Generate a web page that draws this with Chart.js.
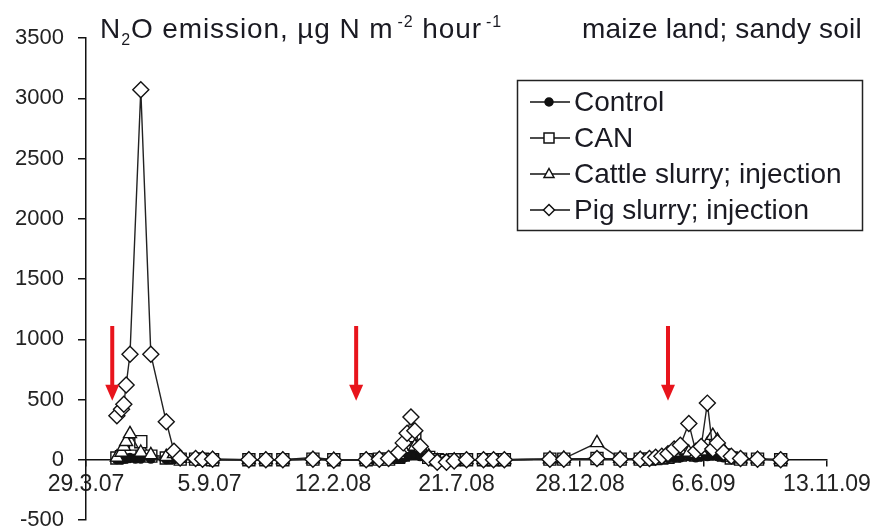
<!DOCTYPE html>
<html>
<head>
<meta charset="utf-8">
<script src="https://cdn.jsdelivr.net/npm/chart.js@4.4.0/dist/chart.umd.min.js"></script>
<style>
  html, body { margin: 0; padding: 0; background: #fff; }
  #wrap { position: relative; width: 874px; height: 530px; }
  .title { position: absolute; font-family: "Liberation Sans", Arial, sans-serif; font-size: 28px; line-height: 1; color: #1a1a22; white-space: nowrap; }
  .title .lo { font-size: 16px; position: relative; top: 7px; }
  .title .hi { font-size: 16px; position: relative; top: -11px; margin-left: 4px; }
</style>
</head>
<body>
<div id="wrap">
  <canvas id="chart" width="874" height="530"></canvas>
  <div class="title" style="left:100px; top:15px; letter-spacing:0.9px;">N<span class="lo">2</span>O emission, µg N m<span class="hi">-2</span> hour<span class="hi">-1</span></div>
  <div class="title" style="left:582px; top:15px; letter-spacing:0.2px;">maize land; sandy soil</div>
</div>
<script>
const START = Date.UTC(2007, 2, 29);   // 29.3.07, left end of x axis

const SERIES_NAMES = ["Control", "CAN", "Cattle slurry; injection", "Pig slurry; injection"];
const SERIES_STYLES = ["circle", "rect", "triangle", "rectRot"];

const DATES = [
  "2007-05-08","2007-05-14","2007-05-17","2007-05-20","2007-05-25","2007-06-01","2007-06-08","2007-06-21",
  "2007-07-11","2007-07-21","2007-07-29","2007-08-18","2007-08-27","2007-09-09","2007-10-26","2007-11-17",
  "2007-12-09","2008-01-17","2008-02-13","2008-03-26","2008-04-12","2008-04-24","2008-05-07","2008-05-13",
  "2008-05-18","2008-05-23","2008-05-28","2008-06-04","2008-06-15","2008-06-26","2008-07-08","2008-07-18",
  "2008-08-03","2008-08-25","2008-09-07","2008-09-21","2008-11-19","2008-12-07","2009-01-19","2009-02-18",
  "2009-03-16","2009-03-28","2009-04-05","2009-04-13","2009-04-21","2009-04-29","2009-05-07","2009-05-18",
  "2009-05-27","2009-06-03","2009-06-11","2009-06-18","2009-06-24","2009-07-02","2009-07-12","2009-07-24",
  "2009-08-15","2009-09-14"
];

const CONTROL = [5,5,10,10,15,10,10,10, 5,5,5,5,5,0,0,0, 0,20,0,0,5,5,10,15, 30,40,50,30,10,0,0,0,
  0,0,0,0,5,5,10,5, 5,5,10,10,15,20,20,30, 20,30,30,40,30,20,10,5, 5,0];
const CAN = [15,25,30,40,60,130,150,30, 15,20,5,5,5,0,0,0, 0,5,0,0,5,5,20,40, 80,100,170,60,20,0,-5,0,
  0,0,0,0,5,5,10,5, 5,5,10,15,20,30,40,50, 40,60,50,90,60,40,15,5, 5,0];
const CATTLE = [20,60,110,150,215,null,60,40, 25,50,10,10,5,5,0,0, 0,5,0,0,5,10,40,90, 150,180,110,100,30,-10,-15,-5,
  0,0,0,0,5,10,140,10, 5,10,15,25,40,60,80,60, 50,70,130,200,160,80,20,5, 5,0];
const PIG = [365,420,460,620,875,null,3070,875, 315,70,15,10,5,5,0,0, 0,5,-5,0,5,10,60,140, 220,355,240,110,15,-20,-20,-10,
  0,0,0,0,5,5,10,5, 5,10,20,30,50,90,120,300, 70,110,470,90,140,60,30,10, 5,0];

const Y_MIN = -500, Y_MAX = 3500, Y_STEP = 500;
const X_SPAN_DAYS = 960, X_STEP_DAYS = 160;

// fertiliser application dates (red arrows)
const ARROW_DATES = ["2007-05-02", "2008-03-13", "2009-04-21"];
const ARROW_TOP = 1110, ARROW_TIP = 490;

function dayOf(s) {
  const [y, m, d] = s.split("-").map(Number);
  return Math.round((Date.UTC(y, m - 1, d) - START) / 86400000);
}
function fmtDay(v) {
  const dt = new Date(START + v * 86400000);
  return dt.getUTCDate() + "." + (dt.getUTCMonth() + 1) + "." + String(dt.getUTCFullYear()).slice(2);
}
function pts(vals) {
  return DATES.map((d, i) => ({ x: dayOf(d), y: vals[i] })).filter(p => p.y !== null);
}

function drawMarker(ctx, style, x, y, r) {
  ctx.save();
  ctx.lineWidth = 1.5;
  ctx.strokeStyle = "#111";
  ctx.fillStyle = "#fff";
  ctx.beginPath();
  if (style === "circle") {
    ctx.fillStyle = "#111";
    ctx.arc(x, y, r * 0.8, 0, Math.PI * 2);
  } else if (style === "rect") {
    ctx.rect(x - r, y - r, 2 * r, 2 * r);
  } else if (style === "triangle") {
    ctx.moveTo(x, y - r * 1.1); ctx.lineTo(x + r, y + r * 0.7); ctx.lineTo(x - r, y + r * 0.7); ctx.closePath();
  } else {
    ctx.moveTo(x, y - r * 1.1); ctx.lineTo(x + r * 1.1, y); ctx.lineTo(x, y + r * 1.1); ctx.lineTo(x - r * 1.1, y); ctx.closePath();
  }
  ctx.fill();
  ctx.stroke();
  ctx.restore();
}

const arrowPlugin = {
  id: "arrows",
  afterDatasetsDraw(chart) {
    const { ctx, scales: { x, y } } = chart;
    ctx.save();
    ctx.fillStyle = "#e8141c";
    ARROW_DATES.forEach(d => {
      const px = x.getPixelForValue(dayOf(d));
      const top = y.getPixelForValue(ARROW_TOP);
      const tip = y.getPixelForValue(ARROW_TIP);
      ctx.fillRect(px - 2, top, 4, tip - top - 14);
      ctx.beginPath();
      ctx.moveTo(px - 7, tip - 16);
      ctx.lineTo(px + 7, tip - 16);
      ctx.lineTo(px, tip);
      ctx.closePath();
      ctx.fill();
    });
    ctx.restore();
  }
};

const legendPlugin = {
  id: "legendBox",
  afterDraw(chart) {
    const ctx = chart.ctx;
    ctx.save();
    ctx.strokeStyle = "#222";
    ctx.lineWidth = 1.5;
    ctx.strokeRect(517.5, 80.5, 345, 150);
    ctx.font = '28px "Liberation Sans", Arial, sans-serif';
    ctx.textBaseline = "middle";
    SERIES_NAMES.forEach((name, i) => {
      const yy = 102 + i * 36;
      ctx.beginPath();
      ctx.moveTo(530, yy); ctx.lineTo(570, yy);
      ctx.lineWidth = 1.5; ctx.strokeStyle = "#111"; ctx.stroke();
      drawMarker(ctx, SERIES_STYLES[i], 549, yy, 5);
      ctx.fillStyle = "#1a1a22";
      ctx.fillText(name, 574, yy + 1);
    });
    ctx.restore();
  }
};

function ds(label, vals, style, radius, fill, order) {
  return {
    label, data: pts(vals), order,
    borderColor: "#222", borderWidth: 1.4, backgroundColor: fill,
    pointStyle: style, pointRadius: radius, pointBorderWidth: 1.4,
    pointBorderColor: "#111", pointBackgroundColor: fill,
    tension: 0, spanGaps: true
  };
}

new Chart(document.getElementById("chart"), {
  type: "line",
  data: {
    datasets: [
      ds(SERIES_NAMES[0], CONTROL, "circle", 4.5, "#111", 2),
      ds(SERIES_NAMES[1], CAN, "rect", 8.5, "#fff", 3),
      ds(SERIES_NAMES[2], CATTLE, "triangle", 7.5, "#fff", 1),
      ds(SERIES_NAMES[3], PIG, "rectRot", 8, "#fff", 0)
    ]
  },
  options: {
    responsive: false,
    animation: false,
    layout: { padding: { left: 0, top: 38, right: 47, bottom: 10 } },
    plugins: { legend: { display: false }, tooltip: { enabled: false } },
    scales: {
      x: {
        type: "linear",
        position: { y: 0 },
        min: 0, max: X_SPAN_DAYS,
        afterFit: s => { s.paddingRight = 0; s.paddingLeft = 0; },
        grid: { drawOnChartArea: false, drawTicks: true, tickLength: 6, color: "#111", lineWidth: 1.5 },
        border: { display: true, color: "#111", width: 1.5 },
        ticks: {
          stepSize: X_STEP_DAYS, autoSkip: false, maxRotation: 0, padding: 5,
          color: "#222", font: { family: '"Liberation Sans", Arial, sans-serif', size: 23 },
          callback: v => fmtDay(v)
        }
      },
      y: {
        min: Y_MIN, max: Y_MAX,
        afterFit: s => { s.width = 86; s.paddingTop = 0; s.paddingBottom = 0; },
        grid: { drawOnChartArea: false, drawTicks: true, tickLength: 8, color: "#111", lineWidth: 1.5 },
        border: { display: true, color: "#111", width: 1.5 },
        ticks: {
          stepSize: Y_STEP, padding: 14,
          color: "#222", font: { family: '"Liberation Sans", Arial, sans-serif', size: 22 },
          callback: v => String(v)
        }
      }
    }
  },
  plugins: [arrowPlugin, legendPlugin]
});
</script>
</body>
</html>
